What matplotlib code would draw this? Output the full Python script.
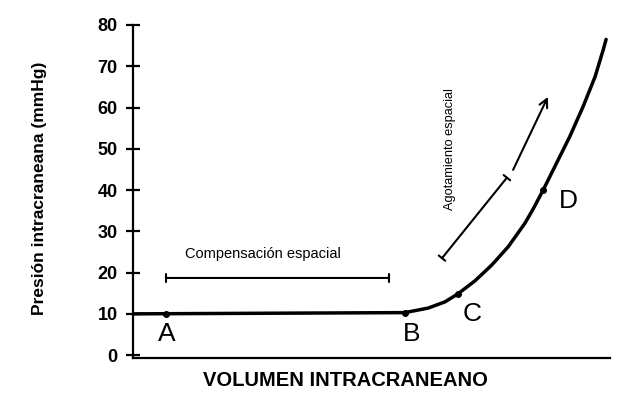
import matplotlib.pyplot as plt

plt.rcParams['font.family'] = ['Liberation Sans', 'DejaVu Sans']

# curve (x: relative volume 0-100, y: mmHg)
vol = [0, 57.0, 61.9, 65.4, 68.2, 71.7, 75.2, 78.7, 82.2, 83.9, 86.0,
       88.8, 91.6, 94.4, 96.9, 98.6, 99.2]
pic = [10, 10.3, 11.4, 12.9, 14.9, 18.0, 21.8, 26.3, 32.0, 35.4, 40.0,
       46.5, 53.0, 60.3, 67.5, 74.0, 76.5]

pt_names = ['A', 'B', 'C', 'D']
pt_x = [6.9, 57.0, 68.2, 86.0]
pt_y = [10, 10.3, 14.9, 40.0]

comp_range = [6.9, 53.7]
comp_y = 18.7

fig = plt.figure(figsize=(6.4, 4.01), dpi=100)
ax = fig.add_axes([0.2078, 0.1072, 0.7452, 0.8305])

ax.plot(vol, pic, color='black', lw=2.5, solid_capstyle='round',
        solid_joinstyle='round')
ax.plot(pt_x, pt_y, 'o', color='black', ms=4)

lab_off = [(0.2, -5.0), (1.5, -5.3), (3.0, -4.9), (5.2, -2.6)]
for n, x, y, (dx, dy) in zip(pt_names, pt_x, pt_y, lab_off):
    ax.text(x + dx, y + dy, n, fontsize=19, ha='center', va='center')

# compensacion espacial
ax.annotate('', xy=(comp_range[0], comp_y), xytext=(comp_range[1], comp_y),
            arrowprops=dict(arrowstyle='|-|,widthA=0.3,widthB=0.3', color='black',
                            lw=1.5, shrinkA=0, shrinkB=0))
ax.text(27.3, 24.4, 'Compensación espacial', fontsize=10.5, ha='center',
        va='center')

# agotamiento espacial
ax.annotate('', xy=(64.8, 23.5), xytext=(78.4, 43.0),
            arrowprops=dict(arrowstyle='|-|,widthA=0.3,widthB=0.3', color='black',
                            lw=1.5, shrinkA=0, shrinkB=0))
ax.annotate('', xy=(87.0, 62.6), xytext=(79.7, 44.9),
            arrowprops=dict(arrowstyle='->,head_width=0.3,head_length=0.6',
                            color='black', lw=1.5, shrinkA=0, shrinkB=0))
ax.text(66.5, 50.0, 'Agotamiento espacial', fontsize=9.2, rotation=90,
        ha='center', va='center')

ax.set_xlim(0, 100)
ax.set_ylim(-0.7, 80)
ax.set_yticks(range(0, 81, 10))
ax.set_xticks([])
ax.spines['top'].set_visible(False)
ax.spines['right'].set_visible(False)
ax.spines['left'].set_linewidth(1.6)
ax.spines['bottom'].set_linewidth(1.6)
ax.tick_params(axis='y', direction='inout', length=10, width=1.6,
               labelsize=13, pad=6)
for t in ax.get_yticklabels():
    t.set_fontweight('bold')

fig.text(40 / 640, 0.531, 'Presión intracraneana (mmHg)', fontsize=12.5,
         fontweight='bold', rotation=90, ha='center', va='center')
fig.text(345 / 640, 1 - 381 / 401, 'VOLUMEN INTRACRANEANO', fontsize=14.5,
         fontweight='bold', ha='center', va='center')

fig.savefig('out.png', dpi=100)
